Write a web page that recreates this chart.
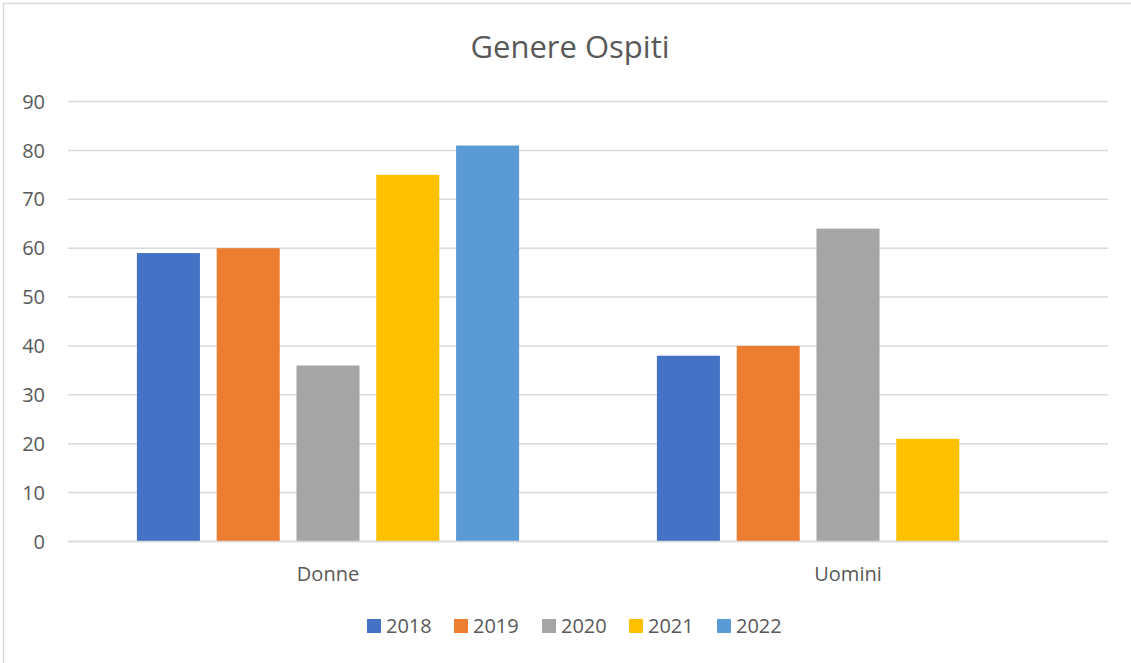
<!DOCTYPE html>
<html>
<head>
<meta charset="utf-8">
<script src="https://cdn.jsdelivr.net/npm/d3@7"></script>
<style>
  body { margin: 0; background: #fff; }
  text { font-family: "Open Sans", "Noto Sans", sans-serif; fill: #595959; }
</style>
</head>
<body>
<div id="chart"></div>
<script>
const categories = ["Donne", "Uomini"];
const seriesNames = ["2018", "2019", "2020", "2021", "2022"];
const seriesColors = ["#4472c4", "#ed7d31", "#a5a5a5", "#ffc000", "#5b9bd5"];
// values per series, in category order (Uomini 2022 has no value)
const values2018 = [59, 38];
const values2019 = [60, 40];
const values2020 = [36, 64];
const values2021 = [75, 21];
const values2022 = [81, null];
const yTicks = [0, 10, 20, 30, 40, 50, 60, 70, 80, 90];

const width = 1131;
const height = 663;
const margin = { top: 101.5, right: 23, bottom: 121.5, left: 68 };

const svg = d3
  .select("#chart")
  .append("svg")
  .attr("width", width)
  .attr("height", height);

// chart frame (only top/left edges visible in the crop)
svg
  .append("rect")
  .attr("x", 3.5)
  .attr("y", 3.5)
  .attr("width", width + 10)
  .attr("height", height + 10)
  .attr("fill", "none")
  .attr("stroke", "#d9d9d9")
  .attr("stroke-width", 1.5);

svg
  .append("text")
  .attr("x", 570)
  .attr("y", 58)
  .attr("text-anchor", "middle")
  .style("font-size", "31px")
  .text("Genere Ospiti");

const allSeries = [values2018, values2019, values2020, values2021, values2022];

const y = d3
  .scaleLinear()
  .domain([0, 90])
  .range([height - margin.bottom, margin.top]);

const x0 = d3
  .scaleBand()
  .domain(categories)
  .range([margin.left, width - margin.right]);

const groupWidth = x0.bandwidth() * 0.735;
const x1 = d3
  .scaleBand()
  .domain(seriesNames)
  .range([(x0.bandwidth() - groupWidth) / 2, (x0.bandwidth() + groupWidth) / 2])
  .paddingInner(0.21);

// gridlines
svg
  .append("g")
  .selectAll("line")
  .data(yTicks)
  .enter()
  .append("line")
  .attr("x1", margin.left)
  .attr("x2", width - margin.right)
  .attr("y1", (d) => y(d))
  .attr("y2", (d) => y(d))
  .attr("stroke", "#d9d9d9")
  .attr("stroke-width", 1.5);

// y labels
svg
  .append("g")
  .selectAll("text")
  .data(yTicks)
  .enter()
  .append("text")
  .attr("x", 45)
  .attr("y", (d) => y(d))
  .attr("dy", "0.36em")
  .attr("text-anchor", "end")
  .style("font-size", "20px")
  .text((d) => d);

// bars
const groups = svg
  .append("g")
  .selectAll("g")
  .data(categories)
  .enter()
  .append("g")
  .attr("transform", (d) => `translate(${x0(d)},0)`);

groups
  .selectAll("rect")
  .data((c, ci) =>
    seriesNames
      .map((s, si) => ({ s, v: allSeries[si][ci], color: seriesColors[si] }))
      .filter((d) => d.v != null)
  )
  .enter()
  .append("rect")
  .attr("x", (d) => x1(d.s))
  .attr("width", x1.bandwidth())
  .attr("y", (d) => y(d.v))
  .attr("height", (d) => y(0) - y(d.v))
  .attr("fill", (d) => d.color);

// redraw baseline over bars
svg
  .append("line")
  .attr("x1", margin.left)
  .attr("x2", width - margin.right)
  .attr("y1", y(0))
  .attr("y2", y(0))
  .attr("stroke", "#d9d9d9")
  .attr("stroke-width", 1.5);

// category labels
svg
  .append("g")
  .selectAll("text")
  .data(categories)
  .enter()
  .append("text")
  .attr("x", (d) => x0(d) + x0.bandwidth() / 2)
  .attr("y", y(0) + 39)
  .attr("text-anchor", "middle")
  .style("font-size", "20px")
  .text((d) => d);

// legend
const legendX = [367, 454, 542, 629, 717];
const legend = svg
  .append("g")
  .selectAll("g")
  .data(seriesNames)
  .enter()
  .append("g")
  .attr("transform", (d, i) => `translate(${legendX[i]},619)`);

legend
  .append("rect")
  .attr("width", 14)
  .attr("height", 14)
  .attr("fill", (d, i) => seriesColors[i]);

legend
  .append("text")
  .attr("x", 19)
  .attr("y", 7)
  .attr("dy", "0.36em")
  .style("font-size", "20px")
  .text((d) => d);
</script>
</body>
</html>
